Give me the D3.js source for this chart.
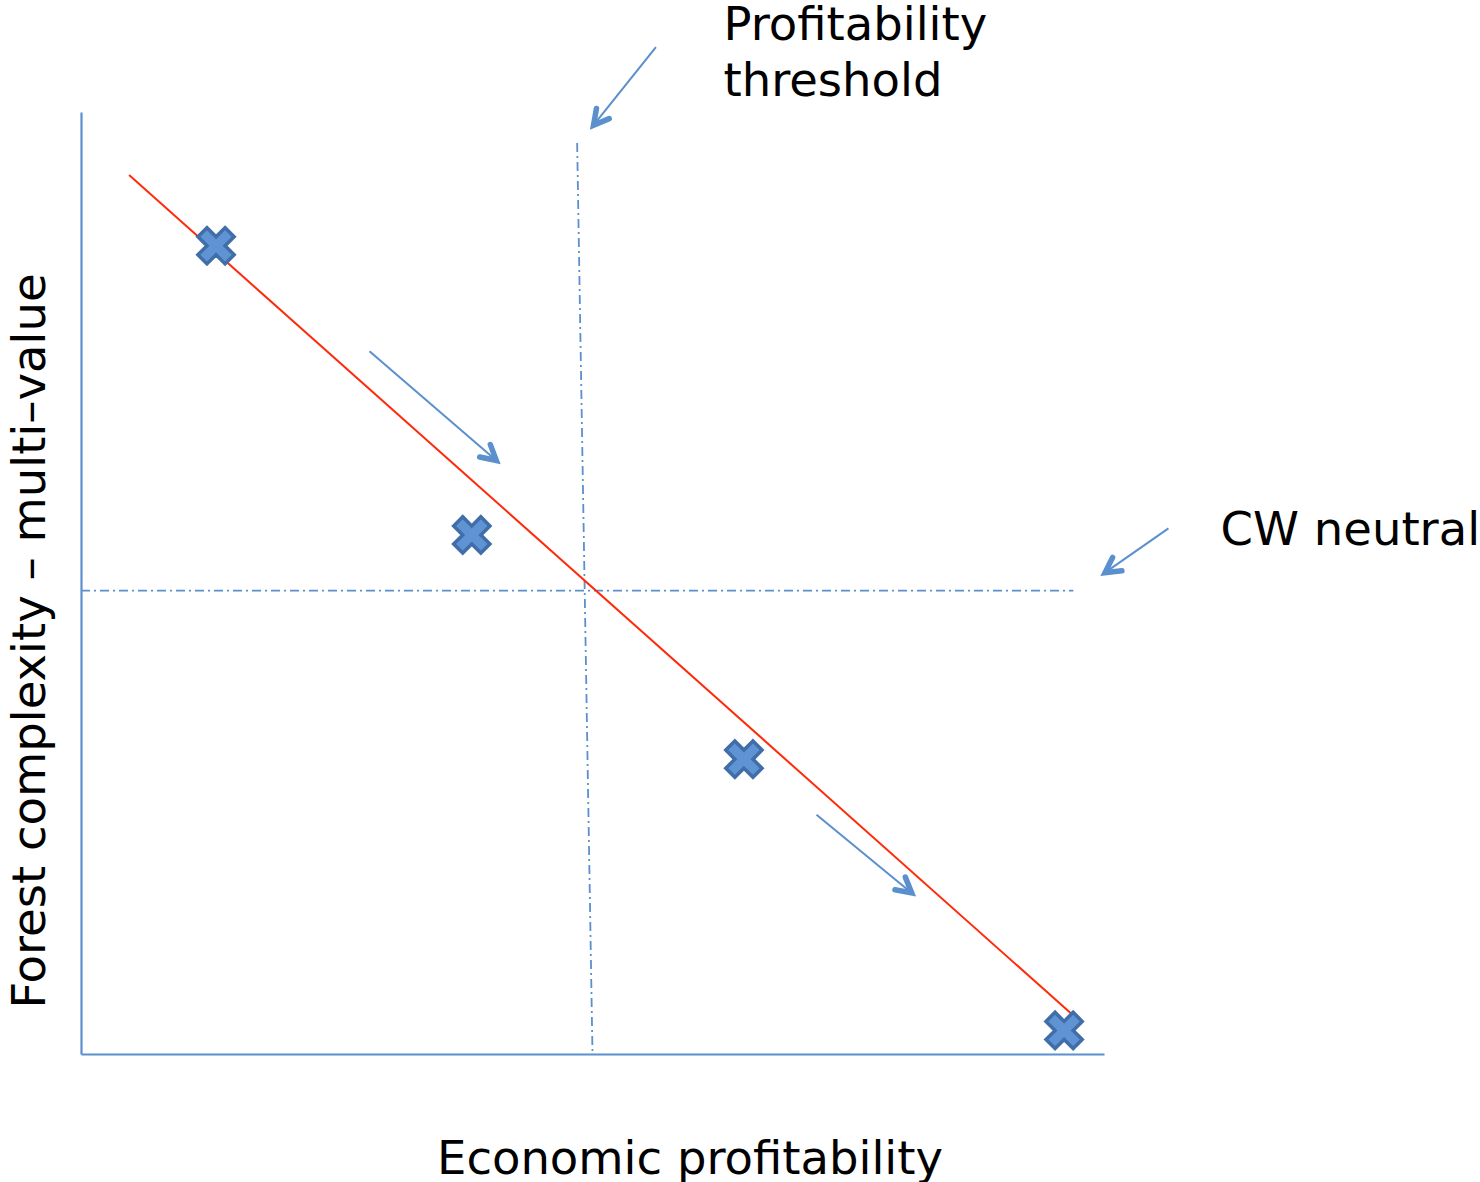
<!DOCTYPE html>
<html>
<head>
<meta charset="utf-8">
<script src="https://cdn.jsdelivr.net/npm/d3@7"></script>
<style>
  body { margin: 0; background: #fff; }
  text { font-family: "DejaVu Sans", Verdana, sans-serif; fill: #000; }
</style>
</head>
<body>
<svg id="chart" width="1480" height="1182"></svg>
<script>
// values in abstract chart units (0..100 on both axes)
var points = [[13.2, 85.8], [38.2, 55.1], [64.8, 31.3], [96.1, 2.5]];
var trendLine = [[4.7, 93.3], [97.2, 3.9]];
var thresholdLine = [[48.5, 96.7], [50.0, 0]];
var neutralLine = [[0, 49.2], [97.0, 49.2]];
var arrows = [
  [[56.2, 106.9], [50.1, 98.6]],
  [[106.3, 55.8], [100.1, 51.1]],
  [[28.2, 74.6], [40.6, 63.0]],
  [[71.9, 25.4], [81.2, 17.1]]
];
var labels = [
  {text: ["Profitability", "threshold"], at: [62.8, 107.6]},
  {text: ["CW neutral"], at: [111.4, 54.0]}
];
var xTitle = "Economic profitability";
var yTitle = "Forest complexity \u2013 multi\u2013value";

var blue = "#5b8fcd";
var svg = d3.select("#chart");
var x = d3.scaleLinear().domain([0, 100]).range([81, 1104]);
var y = d3.scaleLinear().domain([0, 100]).range([1054, 112]);
var line = d3.line().x(function(d) { return x(d[0]); }).y(function(d) { return y(d[1]); });

// axes (plain lines, no ticks)
svg.append("g").attr("transform", "translate(0," + y(0) + ")")
  .call(d3.axisBottom(x).ticks(0).tickSizeOuter(0))
  .call(function(g) { g.select(".domain").attr("stroke", blue).attr("stroke-width", 2.2); });
svg.append("g").attr("transform", "translate(" + x(0) + ",0)")
  .call(d3.axisLeft(y).ticks(0).tickSizeOuter(0))
  .call(function(g) { g.select(".domain").attr("stroke", blue).attr("stroke-width", 2.2); });

// dash-dot reference lines
[thresholdLine, neutralLine].forEach(function(l) {
  svg.append("path").attr("d", line(l))
    .attr("fill", "none").attr("stroke", blue).attr("stroke-width", 1.8)
    .attr("stroke-dasharray", "9,4,2,4");
});

// trend line
svg.append("path").attr("d", line(trendLine))
  .attr("fill", "none").attr("stroke", "#ff2a0a").attr("stroke-width", 2);

// markers
svg.selectAll(".pt").data(points).enter().append("path")
  .attr("class", "pt")
  .attr("d", d3.symbol().type(d3.symbolCross).size(820))
  .attr("transform", function(d) { return "translate(" + x(d[0]) + "," + y(d[1]) + ") rotate(45)"; })
  .attr("fill", "#5f93d3").attr("stroke", "#3f6ea8").attr("stroke-width", 3.5)
  .attr("stroke-linejoin", "miter");

// arrows
arrows.forEach(function(a) {
  var x1 = x(a[0][0]), y1 = y(a[0][1]), x2 = x(a[1][0]), y2 = y(a[1][1]);
  var ang = Math.atan2(y2 - y1, x2 - x1);
  var len = 17, spread = 0.5;
  svg.append("line").attr("x1", x1).attr("y1", y1).attr("x2", x2).attr("y2", y2)
    .attr("stroke", blue).attr("stroke-width", 2);
  var p = "M" + (x2 - len * Math.cos(ang - spread)) + "," + (y2 - len * Math.sin(ang - spread)) +
    "L" + x2 + "," + y2 +
    "L" + (x2 - len * Math.cos(ang + spread)) + "," + (y2 - len * Math.sin(ang + spread));
  svg.append("path").attr("d", p).attr("fill", "none").attr("stroke", blue)
    .attr("stroke-width", 5.5).attr("stroke-linecap", "round").attr("stroke-linejoin", "miter");
});

// annotations
labels.forEach(function(l) {
  var t = svg.append("text").attr("x", x(l.at[0])).attr("y", y(l.at[1])).style("font-size", "46.5px");
  l.text.forEach(function(s, i) {
    t.append("tspan").attr("x", x(l.at[0])).attr("dy", i ? 56 : 0).text(s);
  });
});

svg.append("text").attr("x", 690).attr("y", 1174).attr("text-anchor", "middle")
  .style("font-size", "46.5px").text(xTitle);
svg.append("text").attr("transform", "translate(45,641) rotate(-90)").attr("text-anchor", "middle")
  .style("font-size", "46.5px").text(yTitle);
</script>
</body>
</html>
